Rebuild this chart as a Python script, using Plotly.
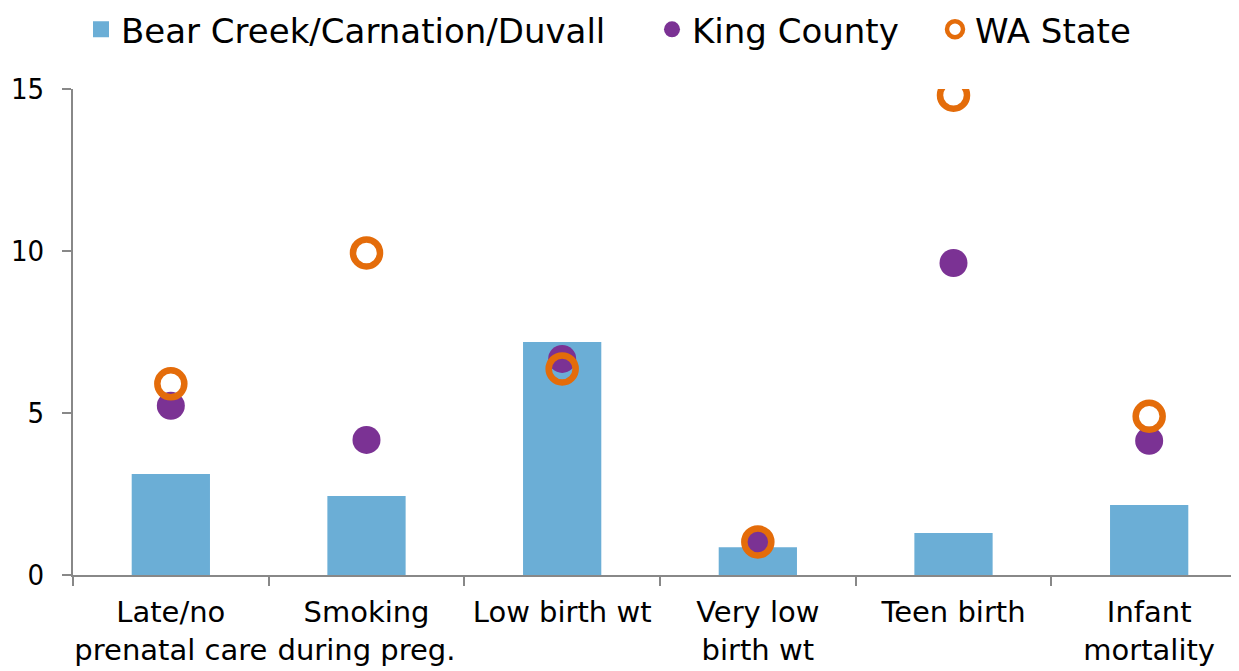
import plotly.graph_objects as go

categories = ["Late/no<br>prenatal care", "Smoking<br>during preg.", "Low birth wt",
              "Very low<br>birth wt", "Teen birth", "Infant<br>mortality"]
bear_creek = [3.12, 2.44, 7.19, 0.86, 1.30, 2.16]
king_county = [5.22, 4.17, 6.67, 1.02, 9.63, 4.14]
wa_state = [5.90, 9.94, 6.36, 1.02, 14.81, 4.90]

BAR_C = "#6BAED6"
KC_C = "#7B3294"
WA_C = "#E46C0A"
FONT = "DejaVu Sans"

fig = go.Figure()
fig.add_trace(go.Bar(x=categories, y=bear_creek, name="Bear Creek/Carnation/Duvall",
                     marker=dict(color=BAR_C, line=dict(width=0)), width=0.4,
                     showlegend=False))
fig.add_trace(go.Scatter(x=categories, y=king_county, name="King County", mode="markers",
                         marker=dict(color=KC_C, size=28, symbol="circle"),
                         showlegend=False))
fig.add_trace(go.Scatter(x=categories, y=wa_state, name="WA State", mode="markers",
                         marker=dict(color=WA_C, size=27, symbol="circle-open",
                                     line=dict(width=6.5, color=WA_C)),
                         showlegend=False))

# legend proxies (no data drawn)
fig.add_trace(go.Scatter(x=[None], y=[None], name="Bear Creek/Carnation/Duvall", mode="markers",
                         marker=dict(color=BAR_C, size=20, symbol="square"), legend="legend"))
fig.add_trace(go.Scatter(x=[None], y=[None], name="King County", mode="markers",
                         marker=dict(color=KC_C, size=22, symbol="circle"), legend="legend2"))
fig.add_trace(go.Scatter(x=[None], y=[None], name="WA State", mode="markers",
                         marker=dict(color=WA_C, size=18, symbol="circle-open",
                                     line=dict(width=4.5, color=WA_C)), legend="legend3"))

W0 = 1174.0
def lx(px):
    return (px - 73) / W0

leg_common = dict(orientation="h", y=1.122, yanchor="middle", xanchor="left",
                  font=dict(family=FONT, size=34, color="black"), itemsizing="trace",
                  bgcolor="rgba(0,0,0,0)", borderwidth=0)

fig.update_layout(
    width=1239, height=671,
    margin=dict(l=65, r=0, t=81, b=104, autoexpand=False),
    paper_bgcolor="white", plot_bgcolor="white",
    font=dict(family=FONT, size=30, color="black"),
    showlegend=True,
    legend=dict(x=lx(81), **leg_common),
    legend2=dict(x=lx(652), **leg_common),
    legend3=dict(x=lx(935), **leg_common),
    xaxis=dict(range=[-0.5, 5.5], showline=True, linecolor="#888888", linewidth=2,
               ticks="outside", tickson="boundaries", ticklen=9, tickcolor="#888888",
               tickwidth=2, showgrid=False, zeroline=False, tickangle=0, automargin=False,
               ticklabelstandoff=10,
               tickfont=dict(family=FONT, size=29)),
    yaxis=dict(range=[0, 15], tickvals=[0, 5, 10, 15], showline=True, linecolor="#888888",
               linewidth=2, ticks="outside", ticklen=9, tickcolor="#888888", tickwidth=2,
               showgrid=False, zeroline=False, ticklabelstandoff=12, automargin=False,
               tickfont=dict(family="DejaVu Sans Condensed", size=29)),
)

fig.write_html("out.html")
